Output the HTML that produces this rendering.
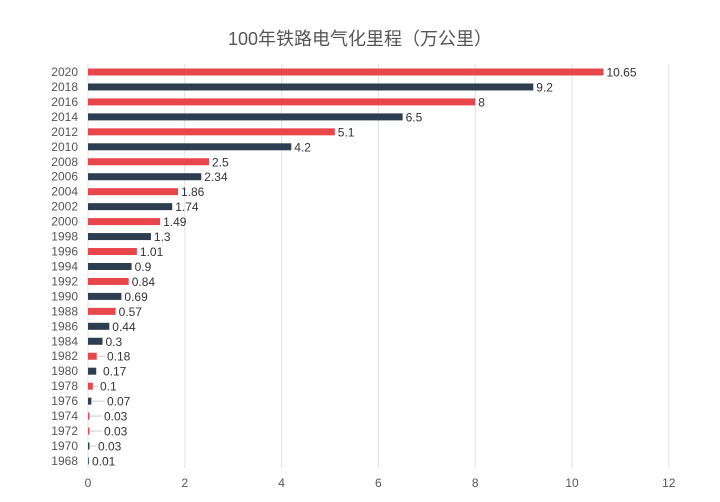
<!DOCTYPE html>
<html><head><meta charset="utf-8"><style>
body{margin:0;background:#fff}
svg text{font-family:"Liberation Sans","Noto Sans CJK SC",sans-serif}
.y{font-size:12px;fill:#555;text-anchor:end}
.v{font-size:12px;fill:#333}
.r{fill:#e8464b}.d{fill:#2d3e50}
</style></head><body>
<svg width="720" height="497" xmlns="http://www.w3.org/2000/svg">
<text x="360" y="45" font-size="18" fill="#555" text-anchor="middle">100年铁路电气化里程（万公里）</text>
<g stroke="#e2e2e2" stroke-width="1">
<line x1="184.8" y1="64" x2="184.8" y2="468"/><line x1="281.6" y1="64" x2="281.6" y2="468"/>
<line x1="378.4" y1="64" x2="378.4" y2="468"/><line x1="475.2" y1="64" x2="475.2" y2="468"/>
<line x1="572" y1="64" x2="572" y2="468"/><line x1="668.8" y1="64" x2="668.8" y2="468"/>
<line x1="88" y1="64" x2="88" y2="468"/>
</g>
<g font-size="12" fill="#555" text-anchor="middle">
<text x="88" y="487">0</text><text x="184.8" y="487">2</text><text x="281.6" y="487">4</text><text x="378.4" y="487">6</text><text x="475.2" y="487">8</text><text x="572" y="487">10</text><text x="668.8" y="487">12</text>
</g>
<g stroke="#ccc" stroke-width="1">
<line x1="97" y1="356.24" x2="105" y2="356.24"/>
<line x1="93" y1="386.16" x2="98" y2="386.16"/>
<line x1="92" y1="401.12" x2="105" y2="401.12"/>
<line x1="90" y1="416.08" x2="102" y2="416.08"/>
<line x1="90" y1="431.04" x2="102" y2="431.04"/>
<line x1="90" y1="446" x2="96" y2="446"/>
</g>
<g>
<text class="y" x="78" y="76">2020</text><rect class="r" x="88" y="68.5" width="515.46" height="7"/><text class="v" x="606.5" y="76.5">10.65</text>
<text class="y" x="78" y="90.96">2018</text><rect class="d" x="88" y="83.46" width="445.28" height="7"/><text class="v" x="536.3" y="91.46">9.2</text>
<text class="y" x="78" y="105.92">2016</text><rect class="r" x="88" y="98.42" width="387.2" height="7"/><text class="v" x="478.2" y="106.42">8</text>
<text class="y" x="78" y="120.88">2014</text><rect class="d" x="88" y="113.38" width="314.6" height="7"/><text class="v" x="405.6" y="121.38">6.5</text>
<text class="y" x="78" y="135.84">2012</text><rect class="r" x="88" y="128.34" width="246.84" height="7"/><text class="v" x="337.8" y="136.34">5.1</text>
<text class="y" x="78" y="150.8">2010</text><rect class="d" x="88" y="143.3" width="203.28" height="7"/><text class="v" x="294.3" y="151.3">4.2</text>
<text class="y" x="78" y="165.76">2008</text><rect class="r" x="88" y="158.26" width="121" height="7"/><text class="v" x="212" y="166.26">2.5</text>
<text class="y" x="78" y="180.72">2006</text><rect class="d" x="88" y="173.22" width="113.26" height="7"/><text class="v" x="204.3" y="181.22">2.34</text>
<text class="y" x="78" y="195.68">2004</text><rect class="r" x="88" y="188.18" width="90.02" height="7"/><text class="v" x="181" y="196.18">1.86</text>
<text class="y" x="78" y="210.64">2002</text><rect class="d" x="88" y="203.14" width="84.22" height="7"/><text class="v" x="175.2" y="211.14">1.74</text>
<text class="y" x="78" y="225.6">2000</text><rect class="r" x="88" y="218.1" width="72.12" height="7"/><text class="v" x="163.1" y="226.1">1.49</text>
<text class="y" x="78" y="240.56">1998</text><rect class="d" x="88" y="233.06" width="62.92" height="7"/><text class="v" x="153.9" y="241.06">1.3</text>
<text class="y" x="78" y="255.52">1996</text><rect class="r" x="88" y="248.02" width="48.88" height="7"/><text class="v" x="139.9" y="256.02">1.01</text>
<text class="y" x="78" y="270.48">1994</text><rect class="d" x="88" y="262.98" width="43.56" height="7"/><text class="v" x="134.6" y="270.98">0.9</text>
<text class="y" x="78" y="285.44">1992</text><rect class="r" x="88" y="277.94" width="40.66" height="7"/><text class="v" x="131.7" y="285.94">0.84</text>
<text class="y" x="78" y="300.4">1990</text><rect class="d" x="88" y="292.9" width="33.4" height="7"/><text class="v" x="124.4" y="300.9">0.69</text>
<text class="y" x="78" y="315.36">1988</text><rect class="r" x="88" y="307.86" width="27.59" height="7"/><text class="v" x="118.6" y="315.86">0.57</text>
<text class="y" x="78" y="330.32">1986</text><rect class="d" x="88" y="322.82" width="21.3" height="7"/><text class="v" x="112.3" y="330.82">0.44</text>
<text class="y" x="78" y="345.28">1984</text><rect class="d" x="88" y="337.78" width="14.52" height="7"/><text class="v" x="105.5" y="345.78">0.3</text>
<text class="y" x="78" y="360.24">1982</text><rect class="r" x="88" y="352.74" width="8.71" height="7"/><text class="v" x="107" y="360.74">0.18</text>
<text class="y" x="78" y="375.2">1980</text><rect class="d" x="88" y="367.7" width="8.23" height="7"/><text class="v" x="103" y="375.7">0.17</text>
<text class="y" x="78" y="390.16">1978</text><rect class="r" x="88" y="382.66" width="4.84" height="7"/><text class="v" x="100" y="390.66">0.1</text>
<text class="y" x="78" y="405.12">1976</text><rect class="d" x="88" y="397.62" width="3.39" height="7"/><text class="v" x="107" y="405.62">0.07</text>
<text class="y" x="78" y="420.08">1974</text><rect class="r" x="88" y="412.58" width="1.45" height="7"/><text class="v" x="104" y="420.58">0.03</text>
<text class="y" x="78" y="435.04">1972</text><rect class="r" x="88" y="427.54" width="1.45" height="7"/><text class="v" x="104" y="435.54">0.03</text>
<text class="y" x="78" y="450">1970</text><rect class="d" x="88" y="442.5" width="1.45" height="7"/><text class="v" x="98" y="450.5">0.03</text>
<text class="y" x="78" y="464.96">1968</text><rect class="d" x="88" y="457.46" width="0.8" height="7"/><text class="v" x="92" y="465.46">0.01</text>
</g>
</svg>
</body></html>
